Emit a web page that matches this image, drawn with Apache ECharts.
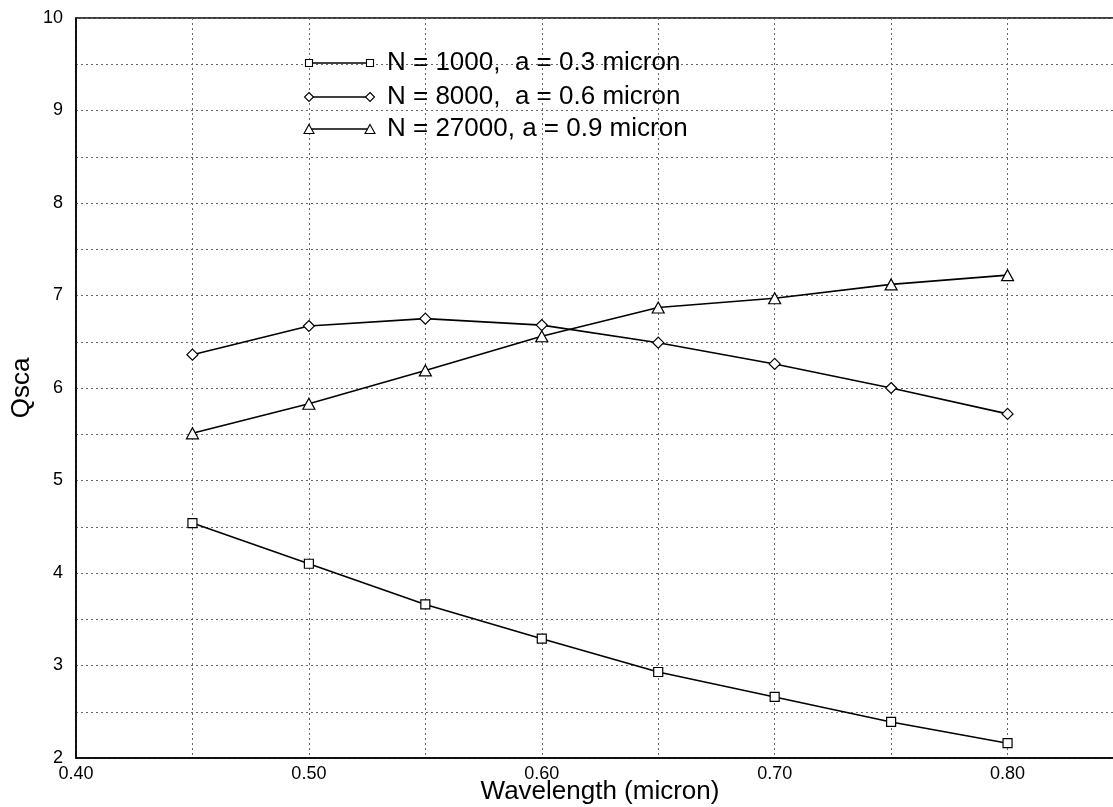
<!DOCTYPE html>
<html>
<head>
<meta charset="utf-8">
<script src="https://cdn.jsdelivr.net/npm/echarts@6/dist/echarts.min.js"></script>
<style>
html,body{margin:0;padding:0;background:#fff;}
#c{width:1113px;height:807px;}
</style>
</head>
<body>
<div id="c"></div>
<script>
// Data
var wavelengths = [0.45, 0.50, 0.55, 0.60, 0.65, 0.70, 0.75, 0.80];
var qN1000  = [4.54, 4.10, 3.66, 3.29, 2.93, 2.66, 2.39, 2.16];
var qN8000  = [6.36, 6.67, 6.75, 6.68, 6.49, 6.26, 6.00, 5.72];
var qN27000 = [5.51, 5.83, 6.19, 6.56, 6.87, 6.97, 7.12, 7.22];
var seriesNames = ['N = 1000,  a = 0.3 micron', 'N = 8000,  a = 0.6 micron', 'N = 27000, a = 0.9 micron'];
var xTitle = 'Wavelength (micron)';
var yTitle = 'Qsca';

function pairs(ys){ return wavelengths.map(function(x,i){ return [x, ys[i]]; }); }

var FONT = '"Liberation Sans", Arial, sans-serif';
var chart = echarts.init(document.getElementById('c'), null, {renderer:'canvas'});

var markerStyle = {color:'#fff', borderColor:'#000', borderWidth:1.2};
function mkSeries(name, ys, symbol, size){
  return {
    name: name, type:'line', data: pairs(ys), symbol: symbol, symbolSize: size,
    lineStyle:{color:'#000', width:1.6}, itemStyle: markerStyle, z:3,
    emphasis:{disabled:true}, animation:false
  };
}

// Legend drawn as graphic (marker—line—marker + text)
var legendRows = [
  {sym:'rect', y:63, size:[7,7]},
  {sym:'diamond', y:97, size:[9,9]},
  {sym:'triangle', y:129, size:[10,9]}
];
function symShape(sym, cx, cy, s){
  var w=s[0], h=s[1];
  if(sym==='rect') return {type:'rect', shape:{x:cx-w/2,y:cy-h/2,width:w,height:h}};
  if(sym==='diamond') return {type:'polygon', shape:{points:[[cx,cy-h/2],[cx+w/2,cy],[cx,cy+h/2],[cx-w/2,cy]]}};
  return {type:'polygon', shape:{points:[[cx,cy-h/2],[cx+w/2,cy+h/2],[cx-w/2,cy+h/2]]}};
}
var graphics = [];
legendRows.forEach(function(r,i){
  graphics.push({type:'line', shape:{x1:309,y1:r.y,x2:370,y2:r.y}, style:{stroke:'#000', lineWidth:1.3}, z:10});
  [309,370].forEach(function(cx){
    var g = symShape(r.sym, cx, r.y, r.size);
    g.style = {fill:'#fff', stroke:'#000', lineWidth:1.1};
    g.z = 11;
    graphics.push(g);
  });
  graphics.push({type:'text', x:387, y:r.y, style:{text:seriesNames[i], font:'26px '+FONT, fill:'#000', textVerticalAlign:'middle', verticalAlign:'middle'}, z:11});
});

var option = {
  backgroundColor:'#fff',
  animation:false,
  grid:{left:76, top:18, width:1048, height:740, outerBoundsMode:'none', containLabel:false,
        show:true, borderColor:'#000', borderWidth:1.5, backgroundColor:'transparent'},
  xAxis:{
    type:'value', min:0.40, max:0.85, interval:0.05,
    name: xTitle, nameLocation:'middle', nameGap:34, nameMoveOverlap:false,
    nameTextStyle:{fontSize:26, fontFamily:FONT, color:'#000', verticalAlign:'middle'},
    axisLine:{show:true, lineStyle:{color:'#000', width:1.5}},
    axisTick:{show:false},
    axisLabel:{fontSize:18, fontFamily:FONT, color:'#000', margin:7,
      formatter:function(v){ var k=Math.round(v*100); return (k%10===0 && k<=80)? (k/100).toFixed(2) : ''; }},
    splitLine:{show:true, lineStyle:{color:'#666', type:[2,3], width:1}}
  },
  yAxis:{
    type:'value', min:2, max:10, interval:0.5,
    name: yTitle, nameLocation:'middle', nameGap:41, nameMoveOverlap:false,
    nameTextStyle:{fontSize:26, fontFamily:FONT, color:'#000'},
    axisLine:{show:true, lineStyle:{color:'#000', width:1.5}},
    axisTick:{show:false},
    axisLabel:{fontSize:18, fontFamily:FONT, color:'#000', margin:13,
      formatter:function(v){ return (Math.abs(v-Math.round(v))<1e-6)? String(Math.round(v)) : ''; }},
    splitLine:{show:true, lineStyle:{color:'#666', type:[2,3], width:1}}
  },
  series:[
    mkSeries(seriesNames[0], qN1000, 'rect', 9),
    mkSeries(seriesNames[1], qN8000, 'diamond', 11),
    mkSeries(seriesNames[2], qN27000, 'triangle', [12,11])
  ],
  graphic: graphics
};
chart.setOption(option);
</script>
</body>
</html>
